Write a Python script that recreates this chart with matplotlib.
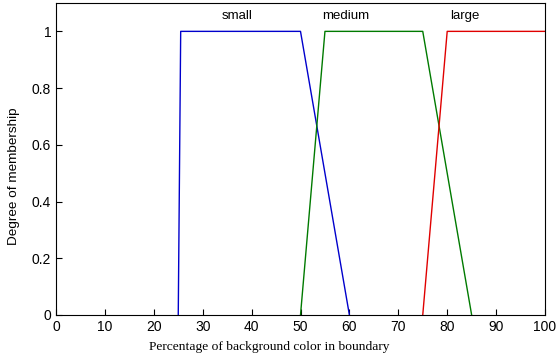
import matplotlib
matplotlib.use("Agg")
import matplotlib.pyplot as plt

# membership function breakpoints (trapezoids)
x_small = [25, 25.5, 50, 60]
x_medium = [50, 55, 75, 85]
x_large = [75, 80, 100]
y_trap = [0, 1, 1, 0]
y_large = [0, 1, 1]

labels = ["small", "medium", "large"]
label_x = [37, 59.3, 83.6]
label_y = 1.053

fig = plt.figure(figsize=(5.58, 3.64), dpi=100)
ax = fig.add_axes([56 / 558, 1 - 315 / 364, 489 / 558, 312 / 364])

ax.plot(x_small, y_trap, color="#0000cc", lw=1)
ax.plot(x_medium, y_trap, color="#007a00", lw=1)
ax.plot(x_large, y_large, color="#e00000", lw=1)

for lab, lx in zip(labels, label_x):
    ax.text(lx, label_y, lab, ha="center", va="center", fontsize=9.5, family="Liberation Sans")

ax.set_xlim(0, 100)
ax.set_ylim(0, 1.1)
ax.set_xticks(range(0, 101, 10))
ax.set_yticks([0, 0.2, 0.4, 0.6, 0.8, 1])
ax.set_yticklabels(["0", "0.2", "0.4", "0.6", "0.8", "1"])
ax.tick_params(direction="in", length=4, labelsize=10, top=False, right=False)
for t in ax.get_xticklabels() + ax.get_yticklabels():
    t.set_family("Liberation Sans")

ax.set_xlabel("Percentage of background color in boundary", family="Liberation Serif", fontsize=9.7)
ax.set_ylabel("Degree of membership", family="Liberation Sans", fontsize=9.7)
ax.xaxis.set_label_coords(0.436, -0.083)
ax.yaxis.set_label_coords(-0.074, 0.445)

fig.savefig("out.png", dpi=100)
